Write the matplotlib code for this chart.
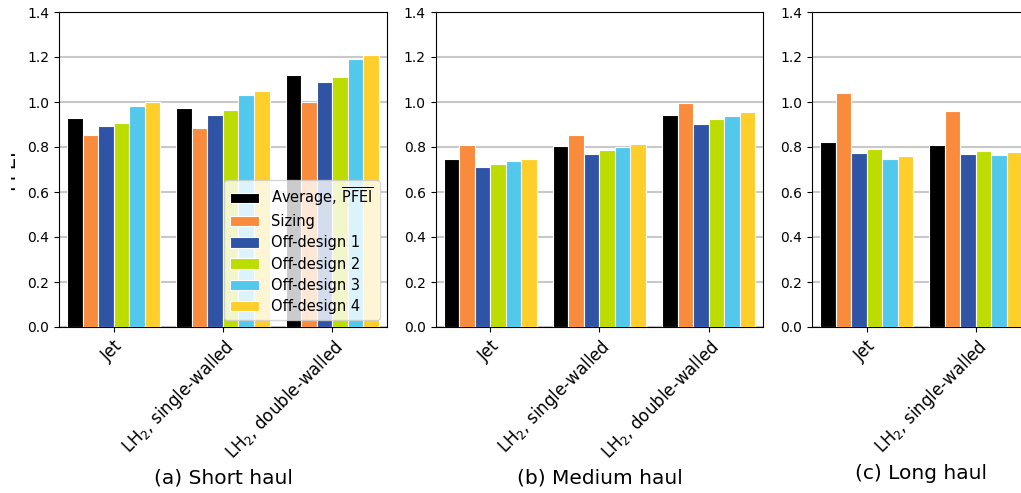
import numpy as np
import matplotlib
matplotlib.use("Agg")
import matplotlib.pyplot as plt
from matplotlib.transforms import Bbox, TransformedBbox

series = ["Average, $\\overline{\\mathrm{PFEI}}$", "Sizing", "Off-design 1",
          "Off-design 2", "Off-design 3", "Off-design 4"]
colors = ["#000000", "#F98B3C", "#3054A5", "#BDDC00", "#52C9EC", "#FECF2B"]

cats_3 = ["Jet", "LH$_2$, single-walled", "LH$_2$, double-walled"]
cats_2 = ["Jet", "LH$_2$, single-walled"]

# rows: categories, cols: series
short_haul = [[0.929, 0.853, 0.893, 0.907, 0.982, 1.001],
              [0.973, 0.884, 0.942, 0.964, 1.031, 1.050],
              [1.119, 1.001, 1.089, 1.111, 1.191, 1.209]]
medium_haul = [[0.747, 0.809, 0.711, 0.724, 0.738, 0.747],
               [0.804, 0.853, 0.769, 0.787, 0.800, 0.813],
               [0.942, 0.996, 0.902, 0.924, 0.938, 0.956]]
long_haul = [[0.822, 1.040, 0.773, 0.791, 0.747, 0.760],
             [0.809, 0.960, 0.769, 0.782, 0.764, 0.778]]

titles = ["(a) Short haul", "(b) Medium haul", "(c) Long haul"]

fig = plt.figure(figsize=(10.21, 4.93), dpi=100)
W, H = 1021, 493
unit = 109.3  # px per category
panels = [(59, cats_3, short_haul), (435.5, cats_3, medium_haul), (812, cats_2, long_haul)]

w = 0.142
axes = []
for k, (left, cats, data) in enumerate(panels):
    ax = fig.add_axes([left / W, (493 - 327) / H, unit * len(cats) / W, 315 / H])
    data = np.array(data)
    x = np.arange(len(cats))
    for i in range(len(series)):
        ax.bar(x + (i - 2.5) * w, data[:, i], w, color=colors[i], edgecolor="white",
               linewidth=0.8, label=series[i], zorder=3)
    ax.set_xlim(-0.5, len(cats) - 0.5)
    ax.set_ylim(0, 1.4)
    ax.set_yticks(np.arange(0, 1.41, 0.2))
    ax.yaxis.grid(True, color="#c8c8c8", linewidth=1.5, zorder=0)
    ax.set_axisbelow(True)
    ax.set_xticks(x)
    ax.set_xticklabels(cats, rotation=45, ha="right", rotation_mode="anchor", fontsize=12)
    ax.tick_params(axis="y", labelsize=10)
    ax.set_xlabel(titles[k], fontsize=14.5, labelpad=4)
    axes.append(ax)

ylab = axes[0].set_ylabel("PFEI", fontsize=14)
axes[0].yaxis.set_label_coords(-0.125, 0.5)
# the label is only partly visible in the original
ylab.set_clip_box(TransformedBbox(Bbox([[10.5 / W, 0], [1, 1]]), fig.transFigure))
ylab.set_clip_on(True)

axes[0].legend(loc="lower right", fontsize=10.5, framealpha=0.8, handlelength=2.0,
               labelspacing=0.42)

fig.savefig("out.png", dpi=100)
